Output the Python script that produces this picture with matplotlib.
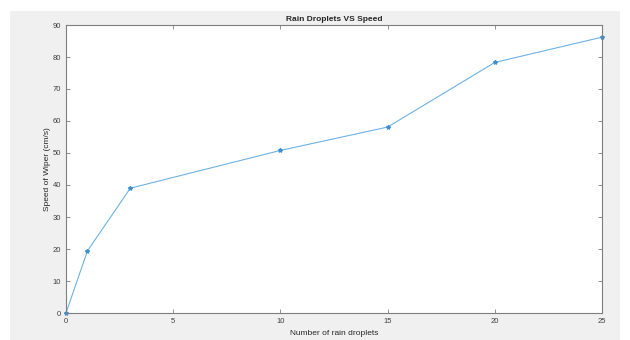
import matplotlib
matplotlib.use('Agg')
import matplotlib.pyplot as plt
from matplotlib.patches import Rectangle

droplets = [0, 1, 3, 10, 15, 20, 25]
speed = [0, 19.4, 39, 50.8, 58.1, 78.3, 86.2]

plt.rcParams['font.family'] = ['Liberation Sans', 'DejaVu Sans']

fig = plt.figure(figsize=(6.3, 3.4), dpi=100, facecolor='white')
# grey MATLAB figure window background
fig.patches.append(Rectangle((10 / 630, 0), 610 / 630, 329 / 340,
                             transform=fig.transFigure, facecolor='#f0f0f0',
                             edgecolor='none', zorder=-1))

ax = fig.add_axes([66 / 630, 1 - 313 / 340, 536 / 630, 288 / 340])
ax.plot(droplets, speed, color='#6db2e3', linewidth=0.8, marker='*',
        markersize=3, markerfacecolor='#3d8fd0', markeredgecolor='#3d8fd0',
        clip_on=False)

ax.set_xlim(0, 25)
ax.set_ylim(0, 90)
ax.set_xticks(range(0, 26, 5))
ax.set_yticks(range(0, 91, 10))

ax.set_title('Rain Droplets VS Speed', fontsize=6, fontweight='bold',
             color='#262626', pad=3)
ax.set_xlabel('Number of rain droplets', fontsize=6, color='#262626', labelpad=4)
ax.set_ylabel('Speed of Wiper (cm/s)', fontsize=6, color='#262626', labelpad=1)

for s in ax.spines.values():
    s.set_color('#7f7f7f')
    s.set_linewidth(0.8)
ax.tick_params(direction='in', top=True, right=True, length=3, width=0.6,
               colors='#7f7f7f', labelsize=5.5, labelcolor='#404040', pad=3.5)

fig.savefig('out.png', dpi=100, facecolor='white')
